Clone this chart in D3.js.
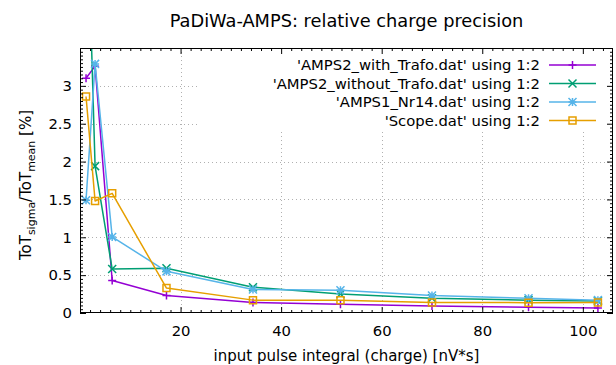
<!DOCTYPE html>
<html>
<head>
<meta charset="utf-8">
<script src="https://cdn.jsdelivr.net/npm/d3@7"></script>
<style>
  body { margin: 0; background: #fff; }
  svg { display: block; font-family: "DejaVu Sans", sans-serif; }
</style>
</head>
<body>
<svg id="chart" width="616" height="365"></svg>
<script>
// Input pulse integral (charge) in nV*s, shared by all measurement files
const charge = [1.2, 3.0, 6.4, 17.2, 34.4, 51.8, 70.0, 89.2, 103.0];

// ToT sigma / ToT mean in percent for each data file
const amps2WithTrafo    = [3.10, 3.26, 0.43, 0.23, 0.14, 0.115, 0.093, 0.075, 0.066];
const amps2WithoutTrafo = [6.0, 1.94, 0.58, 0.59, 0.34, 0.25, 0.195, 0.17, 0.16];
const amps1Nr14         = [1.49, 3.29, 1.005, 0.55, 0.31, 0.30, 0.23, 0.195, 0.17];
const scope             = [2.86, 1.48, 1.58, 0.33, 0.17, 0.17, 0.14, 0.137, 0.14];

const seriesNames = [
  "'AMPS2_with_Trafo.dat' using 1:2",
  "'AMPS2_without_Trafo.dat' using 1:2",
  "'AMPS1_Nr14.dat' using 1:2",
  "'Scope.dat' using 1:2"
];
const seriesValues = [amps2WithTrafo, amps2WithoutTrafo, amps1Nr14, scope];
const seriesColors = ["#9400d3", "#009e73", "#56b4e9", "#e69f00"];
const seriesPoints = ["plus", "cross", "star", "square"];

const xMajor = [20, 40, 60, 80, 100];
const yMajor = [0, 0.5, 1, 1.5, 2, 2.5, 3];

const svg = d3.select("#chart");
const plotL = 80, plotR = 613, plotT = 48, plotB = 313;

const x = d3.scaleLinear().domain([0, 106]).range([plotL, plotR]);
const y = d3.scaleLinear().domain([0, 3.5]).range([plotB, plotT]);

const font = 14.8;

// Grid (dotted, at major ticks)
const grid = svg.append("g").attr("stroke", "#b0b0b0").attr("stroke-width", 1)
  .attr("stroke-dasharray", "1,3");
grid.selectAll("line.gx").data(xMajor).join("line")
  .attr("x1", d => Math.round(x(d)) + 0.5).attr("x2", d => Math.round(x(d)) + 0.5)
  .attr("y1", plotT).attr("y2", plotB);
grid.selectAll("line.gy").data(yMajor.filter(d => d > 0)).join("line")
  .attr("x1", plotL).attr("x2", plotR)
  .attr("y1", d => Math.round(y(d)) + 0.5).attr("y2", d => Math.round(y(d)) + 0.5);

// Opaque key background
svg.append("rect").attr("x", 197).attr("y", plotT + 1).attr("width", plotR - 197 - 1).attr("height", 81)
  .attr("fill", "#fff");

// Data lines, clipped to the plot box
svg.append("clipPath").attr("id", "plotclip").append("rect")
  .attr("x", plotL).attr("y", plotT).attr("width", plotR - plotL).attr("height", plotB - plotT);

const line = d3.line().x(d => x(d[0])).y(d => y(d[1]));

function marker(g, type, color, size) {
  const h = size / 2;
  let p;
  if (type === "plus") p = `M${-h},0H${h}M0,${-h}V${h}`;
  else if (type === "cross") p = `M${-h},${-h}L${h},${h}M${-h},${h}L${h},${-h}`;
  else if (type === "star") p = `M${-h},0H${h}M0,${-h}V${h}M${-h},${-h}L${h},${h}M${-h},${h}L${h},${-h}`;
  else p = `M${-h},${-h}H${h}V${h}H${-h}Z`;
  g.append("path").attr("d", p).attr("fill", "none").attr("stroke", color).attr("stroke-width", 1.5);
}

const plot = svg.append("g").attr("clip-path", "url(#plotclip)");
seriesValues.forEach((vals, i) => {
  const pts = charge.map((c, k) => [c, vals[k]]);
  plot.append("path").datum(pts).attr("d", line)
    .attr("fill", "none").attr("stroke", seriesColors[i]).attr("stroke-width", 1.5)
    .attr("stroke-linejoin", "round");
  pts.filter(p => p[1] <= 3.5).forEach(p => {
    const g = plot.append("g").attr("transform", `translate(${x(p[0])},${y(p[1])})`);
    marker(g, seriesPoints[i], seriesColors[i], seriesPoints[i] === "square" ? 7 : 8);
  });
});

// Border with inward ticks on all four sides
function styleAxis(g) {
  g.select(".domain").remove();
  g.selectAll("line").attr("stroke", "#000").attr("stroke-width", 1);
}
const xMinor = d3.range(2, 106, 2).filter(d => d % 20 !== 0);
const yMinor = d3.range(0.05, 3.5, 0.05).filter(d => Math.abs(d / 0.5 - Math.round(d / 0.5)) > 1e-6);

svg.append("g").attr("transform", `translate(0,${plotB})`)
  .call(d3.axisBottom(x).tickValues(xMajor).tickSize(-6).tickPadding(12).tickFormat(d3.format("d")))
  .call(styleAxis)
  .call(g => g.selectAll("text").attr("font-size", font).attr("font-family", "DejaVu Sans").attr("fill", "#000"));
svg.append("g").attr("transform", `translate(0,${plotB})`)
  .call(d3.axisBottom(x).tickValues(xMinor).tickSize(-3).tickFormat(""))
  .call(styleAxis);
svg.append("g").attr("transform", `translate(0,${plotT})`)
  .call(d3.axisTop(x).tickValues(xMajor).tickSize(-6).tickFormat(""))
  .call(styleAxis);
svg.append("g").attr("transform", `translate(0,${plotT})`)
  .call(d3.axisTop(x).tickValues(xMinor).tickSize(-3).tickFormat(""))
  .call(styleAxis);

svg.append("g").attr("transform", `translate(${plotL},0)`)
  .call(d3.axisLeft(y).tickValues(yMajor).tickSize(-6).tickPadding(8).tickFormat(d3.format("")))
  .call(styleAxis)
  .call(g => g.selectAll("text").attr("font-size", font).attr("font-family", "DejaVu Sans").attr("fill", "#000"));
svg.append("g").attr("transform", `translate(${plotL},0)`)
  .call(d3.axisLeft(y).tickValues(yMinor).tickSize(-3).tickFormat(""))
  .call(styleAxis);
svg.append("g").attr("transform", `translate(${plotR},0)`)
  .call(d3.axisRight(y).tickValues(yMajor).tickSize(-6).tickFormat(""))
  .call(styleAxis);
svg.append("g").attr("transform", `translate(${plotR},0)`)
  .call(d3.axisRight(y).tickValues(yMinor).tickSize(-3).tickFormat(""))
  .call(styleAxis);

svg.append("rect").attr("x", plotL + 0.5).attr("y", plotT + 0.5)
  .attr("width", plotR - plotL - 1).attr("height", plotB - plotT - 1)
  .attr("fill", "none").attr("stroke", "#000").attr("stroke-width", 1);

// Key
const keyRows = [65, 83.5, 102, 120.5];
seriesNames.forEach((name, i) => {
  const ky = keyRows[i];
  svg.append("text").attr("x", 540).attr("y", ky + 5).attr("text-anchor", "end")
    .attr("font-size", font).text(name);
  svg.append("line").attr("x1", 549).attr("x2", 596).attr("y1", ky).attr("y2", ky)
    .attr("stroke", seriesColors[i]).attr("stroke-width", 1.5);
  const g = svg.append("g").attr("transform", `translate(572.5,${ky})`);
  marker(g, seriesPoints[i], seriesColors[i], seriesPoints[i] === "square" ? 7 : 8);
});

// Title and axis labels
svg.append("text").attr("x", (plotL + plotR) / 2).attr("y", 26.5).attr("text-anchor", "middle")
  .attr("font-size", 17.8).text("PaDiWa-AMPS: relative charge precision");

svg.append("text").attr("x", (plotL + plotR) / 2).attr("y", 361).attr("text-anchor", "middle")
  .attr("font-size", 15).text("input pulse integral (charge) [nV*s]");

const yl = svg.append("text").attr("transform", `translate(31,185) rotate(-90)`)
  .attr("text-anchor", "middle").attr("font-size", 15);
yl.append("tspan").text("ToT");
yl.append("tspan").attr("font-size", 11).attr("dy", 4).text("sigma");
yl.append("tspan").attr("dy", -4).text("/ToT");
yl.append("tspan").attr("font-size", 11).attr("dy", 4).text("mean");
yl.append("tspan").attr("dy", -4).text(" [%]");
</script>
</body>
</html>
